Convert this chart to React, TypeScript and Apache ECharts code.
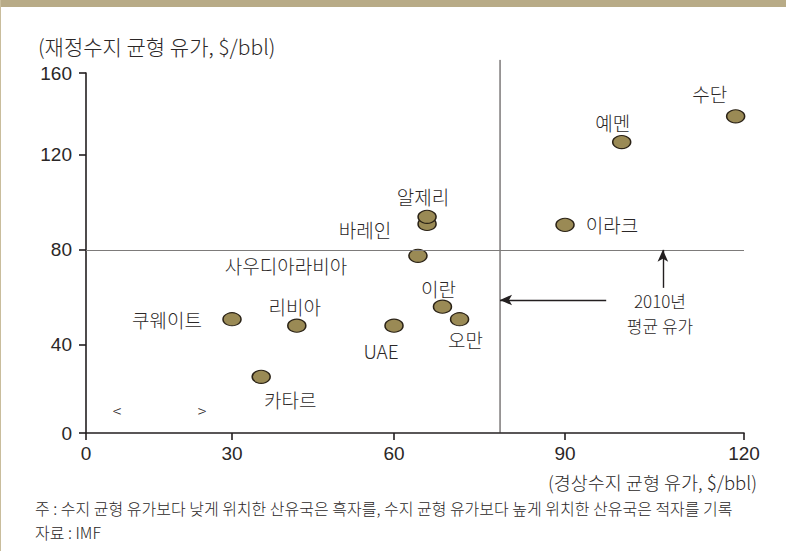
import React, { useEffect, useRef } from "react";
import * as echarts from "echarts";

// ---- data ----
const COUNTRIES = ["수단", "예멘", "이라크", "바레인", "알제리", "사우디아라비아", "이란", "오만", "UAE", "리비아", "쿠웨이트", "카타르"];
// x: current-account breakeven oil price ($/bbl)
const CURRENT_ACCOUNT_BREAKEVEN = [118.6, 99.5, 90, 65.8, 65.8, 64.2, 68.5, 71.5, 60, 42, 30, 35.4];
// y: fiscal breakeven oil price ($/bbl)
const FISCAL_BREAKEVEN = [138.8, 126.2, 90.5, 90.9, 93.9, 77.5, 56.1, 50.8, 48.1, 48.1, 50.8, 25.5];
const X_TICKS = [0, 30, 60, 90, 120];
const Y_TICKS = [0, 40, 80, 120, 160];
const AVG_PRICE_2010_X = 78.6;
const AVG_PRICE_2010_Y = 80;

// ---- layout (the reference draws its ticks unevenly; relative tick placement) ----
const X_TICK_POS = [0, 0.2219, 0.4681, 0.728, 1];
const Y_TICK_POS = [0, 0.2447, 0.5088, 0.7729, 1];
const LABEL_OFFSETS: [number, number][] = [
  [-26, -23], [-9, -20], [47, 0], [-62, 6], [-4, -20], [-132, 10],
  [-4, -18], [6, 20], [-13, 25], [-2, -19], [-65, 0], [29, 23],
];

const KR = '"Noto Sans CJK KR", "Noto Sans", sans-serif';
const NUM = '"Liberation Sans", "Noto Sans CJK KR", sans-serif';
const TEXT = "#2b2727";

function warp(v: number, ticks: number[], pos: number[]) {
  let i = 0;
  while (i < ticks.length - 2 && v > ticks[i + 1]) i++;
  return pos[i] + ((v - ticks[i]) / (ticks[i + 1] - ticks[i])) * (pos[i + 1] - pos[i]);
}
const wx = (v: number) => warp(v, X_TICKS, X_TICK_POS);
const wy = (v: number) => warp(v, Y_TICKS, Y_TICK_POS);
const tickLabel = (ticks: number[], pos: number[]) => (val: number) => {
  const i = pos.findIndex((p) => Math.abs(p - val) < 1e-6);
  return i >= 0 ? String(ticks[i]) : "";
};

export default function App() {
  const ref = useRef<HTMLDivElement>(null);
  useEffect(() => {
    document.body.style.margin = "0";
    const chart = echarts.init(ref.current!, null, { renderer: "svg" });
    const axisLine = { show: true, lineStyle: { color: "#231f20", width: 1.6 } };
    const points = COUNTRIES.map((name, i) => ({
      name,
      value: [wx(CURRENT_ACCOUNT_BREAKEVEN[i]), wy(FISCAL_BREAKEVEN[i])],
      label: { offset: LABEL_OFFSETS[i] },
    }));
    const arrowStyle = { color: "#231f20", width: 1.4, type: "solid" };
    const textStyle = (size: number, align: string) => ({
      fill: TEXT, fontSize: size, fontFamily: KR, fontWeight: 300, align, verticalAlign: "middle",
    });
    chart.setOption({
      animation: false,
      backgroundColor: "#ffffff",
      grid: { left: 86, right: 42, top: 73, bottom: 118 },
      xAxis: {
        type: "value",
        min: 0,
        max: 1,
        axisLine,
        splitLine: { show: false },
        axisTick: { show: true, length: 7, customValues: X_TICK_POS, lineStyle: { color: "#231f20", width: 1.6 } },
        axisLabel: {
          customValues: X_TICK_POS,
          formatter: tickLabel(X_TICKS, X_TICK_POS),
          color: TEXT,
          fontSize: 19,
          fontFamily: NUM,
          margin: 11,
        },
      },
      yAxis: {
        type: "value",
        min: 0,
        max: 1,
        axisLine,
        splitLine: { show: false },
        axisTick: { show: true, length: 7, customValues: Y_TICK_POS, lineStyle: { color: "#231f20", width: 1.6 } },
        axisLabel: {
          customValues: Y_TICK_POS,
          formatter: tickLabel(Y_TICKS, Y_TICK_POS),
          color: TEXT,
          fontSize: 19,
          fontFamily: NUM,
          margin: 14,
        },
      },
      series: [
        {
          type: "line",
          silent: true,
          clip: false,
          symbol: "none",
          lineStyle: { color: "#3a3636", width: 1 },
          data: [
            [wx(AVG_PRICE_2010_X), 0],
            [wx(AVG_PRICE_2010_X), wy(166.4)],
          ],
          z: 1,
        },
        {
          type: "scatter",
          symbol: "circle",
          symbolSize: [18, 13],
          z: 3,
          itemStyle: { color: "#9a8a55", borderColor: "#2a2216", borderWidth: 1.3, opacity: 1 },
          label: {
            show: true,
            position: "inside",
            formatter: "{b}",
            color: TEXT,
            fontSize: 19,
            fontWeight: 300,
            fontFamily: KR,
            align: "center",
            verticalAlign: "middle",
          },
          data: points,
          markLine: {
            silent: true,
            symbol: "none",
            label: { show: false },
            data: [
              [
                { coord: [0, wy(AVG_PRICE_2010_Y)], lineStyle: { color: "#7d7b7a", width: 1.2, type: "solid" } },
                { coord: [1, wy(AVG_PRICE_2010_Y)] },
              ],
              [
                { coord: [wx(96.9), wy(58.9)], symbol: "none", lineStyle: arrowStyle },
                { coord: [wx(AVG_PRICE_2010_X), wy(58.9)], symbol: "arrow", symbolSize: [8, 12] },
              ],
              [
                { coord: [wx(106.4), wy(64)], symbol: "none", lineStyle: arrowStyle },
                { coord: [wx(106.4), wy(AVG_PRICE_2010_Y)], symbol: "arrow", symbolSize: [8, 12] },
              ],
            ],
          },
        },
      ],
      graphic: [
        { type: "rect", left: 0, top: 0, shape: { width: 786, height: 7 }, style: { fill: "#b8ab87" } },
        { type: "rect", left: 0, top: 0, shape: { width: 1, height: 551 }, style: { fill: "#c9bd9c" } },
        { type: "text", x: 38, y: 46, style: { text: "(재정수지 균형 유가, $/bbl)", ...textStyle(21, "left") } },
        { type: "text", x: 757, y: 482, style: { text: "(경상수지 균형 유가, $/bbl)", ...textStyle(18.5, "right") } },
        { type: "text", x: 660, y: 300, style: { text: "2010년", ...textStyle(17, "center") } },
        { type: "text", x: 660, y: 325, style: { text: "평균 유가", ...textStyle(17, "center") } },
        { type: "text", x: 117, y: 410, style: { text: "<", ...textStyle(16, "center") } },
        { type: "text", x: 202, y: 410, style: { text: ">", ...textStyle(16, "center") } },
        {
          type: "text", x: 35, y: 508,
          style: {
            text: "주 : 수지 균형 유가보다 낮게 위치한 산유국은 흑자를, 수지 균형 유가보다 높게 위치한 산유국은 적자를 기록",
            ...textStyle(16, "left"),
          },
        },
        { type: "text", x: 35, y: 532, style: { text: "자료 : IMF", ...textStyle(16, "left") } },
      ],
    });
    return () => chart.dispose();
  }, []);
  return <div ref={ref} style={{ position: "absolute", left: 0, top: 0, width: 786, height: 551 }} />;
}
